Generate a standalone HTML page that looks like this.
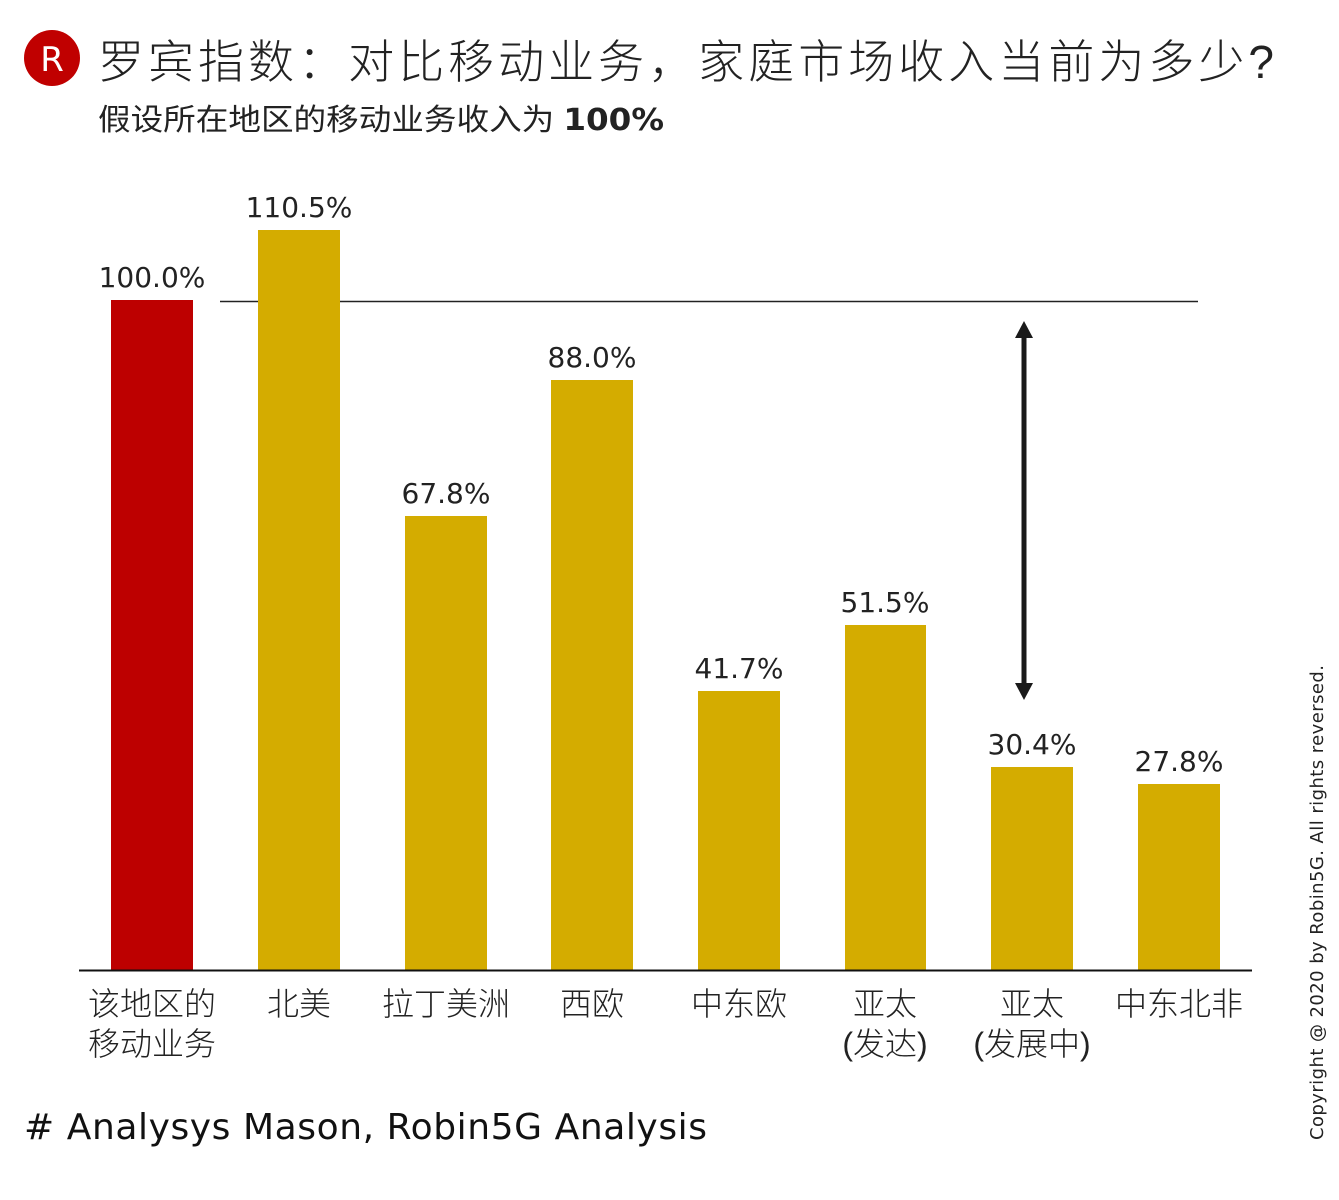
<!DOCTYPE html>
<html><head><meta charset="utf-8"><style>
html,body{margin:0;padding:0;background:#fff;}
svg{display:block;}
</style></head><body>
<svg width="1339" height="1200" viewBox="0 0 1339 1200" xmlns="http://www.w3.org/2000/svg">
<circle cx="52" cy="58" r="28" fill="#c00000"/>
<text x="52" y="71" text-anchor="middle" font-family="DejaVu Sans, sans-serif" font-size="34" fill="#fff">R</text>
<text x="98" y="78" font-family="'Liberation Sans','Noto Sans CJK SC',sans-serif" font-size="46" font-weight="300" fill="#222" textLength="1176" lengthAdjust="spacing">罗宾指数：对比移动业务，家庭市场收入当前为多少?</text>
<text x="98" y="130" font-family="'Liberation Sans','Noto Sans CJK SC',sans-serif" font-size="30" fill="#222" textLength="566" lengthAdjust="spacingAndGlyphs">假设所在地区的移动业务收入为 <tspan font-family="DejaVu Sans, sans-serif" font-weight="bold">100%</tspan></text>

<line x1="220" y1="301.5" x2="1198" y2="301.5" stroke="#222" stroke-width="1.5"/>

<g fill="#d4ac00">
<rect x="111" y="300" width="82" height="670" fill="#bd0000"/>
<rect x="258" y="230" width="82" height="740"/>
<rect x="405" y="516" width="82" height="454"/>
<rect x="551" y="380" width="82" height="590"/>
<rect x="698" y="691" width="82" height="279"/>
<rect x="845" y="625" width="81" height="345"/>
<rect x="991" y="767" width="82" height="203"/>
<rect x="1138" y="784" width="82" height="186"/>
</g>
<line x1="79" y1="970.5" x2="1252" y2="970.5" stroke="#111" stroke-width="2"/>

<g font-family="DejaVu Sans, sans-serif" font-size="28" fill="#222" text-anchor="middle">
<text x="152" y="287">100.0%</text>
<text x="299" y="217">110.5%</text>
<text x="446" y="503">67.8%</text>
<text x="592" y="367">88.0%</text>
<text x="739" y="678">41.7%</text>
<text x="885" y="612">51.5%</text>
<text x="1032" y="754">30.4%</text>
<text x="1179" y="771">27.8%</text>
</g>

<line x1="1024" y1="335" x2="1024" y2="686" stroke="#1a1a1a" stroke-width="5"/>
<polygon points="1024,321 1015,338 1033,338" fill="#1a1a1a"/>
<polygon points="1024,700 1015,683 1033,683" fill="#1a1a1a"/>

<g font-family="'Liberation Sans','Noto Sans CJK SC',sans-serif" font-size="32" font-weight="300" fill="#222" text-anchor="middle">
<text x="152" y="1015">该地区的</text>
<text x="152" y="1055">移动业务</text>
<text x="299" y="1015">北美</text>
<text x="446" y="1015">拉丁美洲</text>
<text x="592" y="1015">西欧</text>
<text x="739" y="1015">中东欧</text>
<text x="885" y="1015">亚太</text>
<text x="885" y="1055">(发达)</text>
<text x="1032" y="1015">亚太</text>
<text x="1032" y="1055">(发展中)</text>
<text x="1179" y="1015">中东北非</text>
</g>

<text x="24" y="1139" font-family="DejaVu Sans, sans-serif" font-size="36" fill="#111" textLength="683" lengthAdjust="spacing"># Analysys Mason, Robin5G Analysis</text>

<text transform="translate(1323,1140) rotate(-90)" font-family="DejaVu Sans, sans-serif" font-size="18" fill="#222" textLength="475" lengthAdjust="spacing">Copyright @ 2020 by Robin5G. All rights reversed.</text>
</svg>
</body></html>
